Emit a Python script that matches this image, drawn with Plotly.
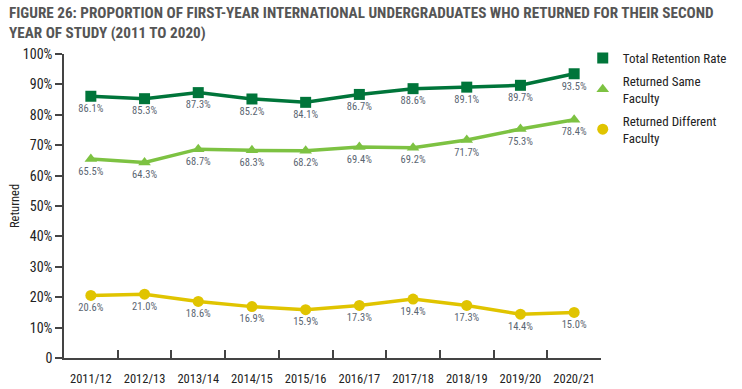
import plotly.graph_objects as go

years = ["2011/12", "2012/13", "2013/14", "2014/15", "2015/16",
         "2016/17", "2017/18", "2018/19", "2019/20", "2020/21"]
total = [86.1, 85.3, 87.3, 85.2, 84.1, 86.7, 88.6, 89.1, 89.7, 93.5]
same = [65.5, 64.3, 68.7, 68.3, 68.2, 69.4, 69.2, 71.7, 75.3, 78.4]
different = [20.6, 21.0, 18.6, 16.9, 15.9, 17.3, 19.4, 17.3, 14.4, 15.0]
ytick_vals = [0, 10, 20, 30, 40, 50, 60, 70, 80, 90, 100]
ytick_text = ["0", "10%", "20%", "30%", "40%", "50%", "60%", "70%", "80%", "90%", "100%"]

series = [
    ("Total Retention Rate", total, "#00753A", "square", 11),
    ("Returned Same<br>Faculty", same, "#7DC242", "triangle-up", 11),
    ("Returned Different<br>Faculty", different, "#E0C400", "circle", 11),
]

TITLE = ("<b>FIGURE 26: PROPORTION OF FIRST-YEAR INTERNATIONAL UNDERGRADUATES WHO RETURNED FOR THEIR SECOND"
         "<br>YEAR OF STUDY (2011 TO 2020)</b>")

FONT = "Roboto Condensed, Roboto, sans-serif"
fig = go.Figure()
for name, vals, color, sym, size in series:
    fig.add_trace(go.Scatter(
        x=years, y=vals, name=name, mode="lines+markers+text",
        line=dict(color=color, width=3.5),
        marker=dict(symbol=sym, size=size, color=color),
        text=[f"{v:.1f}%" for v in vals],
        textposition="bottom center",
        textfont=dict(size=10.5, color="#5B6672", family=FONT),
        cliponaxis=False, showlegend=False,
    ))
for i, (name, vals, color, sym, size) in enumerate(series):
    fig.add_trace(go.Scatter(
        x=[None], y=[None], name=name, mode="markers",
        marker=dict(symbol=sym, size=11, color=color),
        showlegend=True, legendgroup=f"g{i}",
    ))

fig.add_annotation(
    text=TITLE, xref="paper", yref="paper", x=-0.106, y=1.17,
    xanchor="left", yanchor="top", align="left", showarrow=False,
    font=dict(size=15.2, color="#555555", family=FONT),
)

fig.update_layout(
    width=742, height=389,
    margin=dict(l=64, r=141, t=54, b=31, autoexpand=False),
    paper_bgcolor="white", plot_bgcolor="white",
    font=dict(family=FONT, color="#222222"),
    legend=dict(
        x=0.966, xanchor="left", y=1.036, yanchor="top",
        font=dict(size=13, color="#222222", family=FONT),
        bgcolor="rgba(0,0,0,0)", tracegroupgap=3,
        itemwidth=30,
    ),
    showlegend=True,
)
fig.update_xaxes(
    type="category", range=[-0.5, 9.5], tickangle=0,
    showline=True, linecolor="#444444", linewidth=1.5,
    ticks="inside", tickson="boundaries", ticklen=8, tickcolor="#444444", tickwidth=1.5,
    tickfont=dict(size=12.5, color="#222222", family=FONT),
    ticklabelstandoff=8,
    showgrid=False, zeroline=False,
)
fig.update_yaxes(
    range=[0, 100], tickvals=ytick_vals, ticktext=ytick_text,
    showline=True, linecolor="#444444", linewidth=1.5,
    ticks="outside", ticklen=7, tickcolor="#444444", tickwidth=1.5,
    tickfont=dict(size=14, color="#222222", family=FONT),
    showgrid=False, zeroline=False,
    title=dict(text="Returned", font=dict(size=12.5, color="#222222", family=FONT), standoff=0),
)
fig.write_html("out.html", post_script="document.body.style.margin='0';",
               config={"displayModeBar": False})
